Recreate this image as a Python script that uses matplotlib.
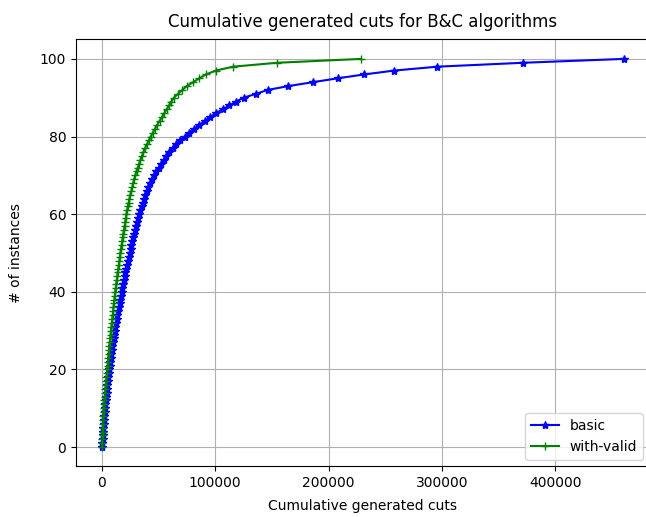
import numpy as np
import matplotlib
matplotlib.use("Agg")
import matplotlib.pyplot as plt

# number of instances solved (0..100)
instances = np.arange(101)

# cumulative generated cuts
basic_cuts = [
    300, 520, 740, 960, 1180, 1400, 1650, 1900, 2150, 2450,
    2750, 3100, 3450, 3800, 4150, 4500, 4900, 5300, 5700, 6100,
    6500, 6950, 7400, 7850, 8300, 8800, 9300, 9800, 10350, 10900,
    11500, 12050, 12600, 13150, 13750, 14350, 14950, 15600, 16200, 16850,
    17500, 18150, 18800, 19450, 20100, 20800, 21500, 22200, 22950, 23700,
    24500, 25300, 26100, 26900, 27700, 28550, 29400, 30300, 31200, 32100,
    33000, 34000, 35000, 36100, 37200, 38400, 39700, 41100, 42600, 44200,
    46000, 48000, 50100, 52300, 54600, 57000, 59600, 62400, 65500, 69000,
    73000, 77200, 81600, 86100, 90700, 95500, 100600, 106500, 112400, 118300,
    125000, 136000, 146200, 164500, 186000, 208000, 231500, 258000, 296000, 371300,
    460400,
]

valid_cuts = [
    200, 350, 500, 650, 800, 950, 1100, 1250, 1400, 1550,
    1700, 2000, 2300, 2600, 2900, 3200, 3500, 3800, 4100, 4400,
    4700, 5030, 5360, 5690, 6020, 6350, 6680, 7010, 7340, 7670,
    8000, 8380, 8760, 9140, 9520, 9900, 10280, 10660, 11040, 11420,
    11800, 12250, 12700, 13150, 13600, 14050, 14500, 14950, 15400, 15850,
    16300, 16840, 17380, 17920, 18460, 19000, 19540, 20080, 20620, 21160,
    21700, 22300, 22950, 23650, 24400, 25200, 26000, 26850, 27700, 28600,
    29500, 30600, 31700, 32900, 34100, 35400, 36700, 38100, 39800, 41500,
    43200, 45000, 46900, 48900, 50900, 53000, 55100, 57200, 59300, 61400,
    63500, 67200, 71000, 75000, 80500, 86000, 91800, 100600, 115900, 154500,
    228500,
]

fig = plt.figure(figsize=(6.46, 5.17), dpi=100)
ax = fig.add_axes([0.1176, 0.0977, 1.006 - 0.1176, 0.9236 - 0.0977])

ax.plot(basic_cuts, instances, "b-*", label="basic")
ax.plot(valid_cuts, instances, "g-+", label="with-valid")

ax.set_title("Cumulative generated cuts for B&C algorithms", pad=9)
ax.set_xlabel("Cumulative generated cuts", labelpad=6)
ax.set_ylabel("# of instances", labelpad=12)
ax.grid(True)
ax.legend(loc="lower right")

fig.savefig("out.png", dpi=100)
